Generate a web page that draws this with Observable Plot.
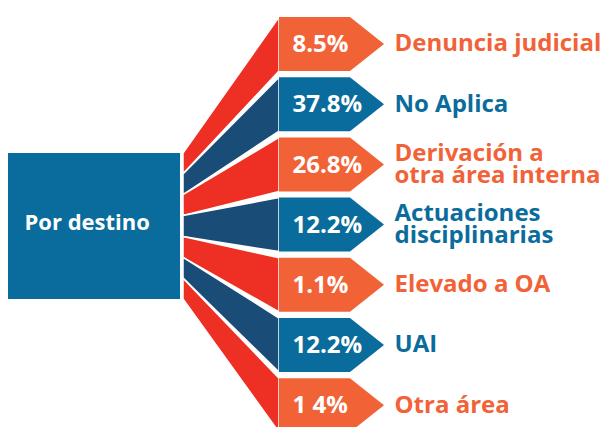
<!DOCTYPE html>
<html>
<head>
<meta charset="utf-8">
<script src="https://cdn.jsdelivr.net/npm/d3@7"></script>
<script src="https://cdn.jsdelivr.net/npm/@observablehq/plot@0.6"></script>
<style>
  html, body { margin: 0; padding: 0; background: #ffffff; }
  #chart svg { display: block; }
</style>
</head>
<body>
<div id="chart"></div>
<script>
// ---- data ----
const rootLabel = "Por destino";
const categories = [
  "Denuncia judicial",
  "No Aplica",
  "Derivación a\notra área interna",
  "Actuaciones\ndisciplinarias",
  "Elevado a OA",
  "UAI",
  "Otra área"
];
const values = [8.5, 37.8, 26.8, 12.2, 1.1, 12.2, 1.4];
const valueLabels = ["8.5%", "37.8%", "26.8%", "12.2%", "1.1%", "12.2%", "1 4%"];

// ---- layout / style ----
const W = 600, H = 427;
const orange = "#f26237", red = "#ee3024", blue = "#0a6c9c", darkBlue = "#1a4c78";
const box = {x1: 8, x2: 180, y1: 153, y2: 299};
const fanX0 = 183, fanX1 = 279, arrowBodyEnd = 350, arrowTip = 384;
const rowTop0 = 17, rowPitch = 60.2, rowH = 54;
const font = "'Open Sans', sans-serif";

const rows = categories.map((c, i) => {
  const top = rowTop0 + i * rowPitch;
  return {
    i, category: c, value: values[i], valueLabel: valueLabels[i],
    top, bottom: top + rowH, mid: top + rowH / 2,
    leftTop: box.y1 + i * (box.y2 - box.y1) / categories.length,
    leftBottom: box.y1 + (i + 1) * (box.y2 - box.y1) / categories.length,
    even: i % 2 === 0
  };
});

const wedgePts = rows.flatMap(r => [
  {id: r.i, x: fanX0, y1: r.leftTop, y2: r.leftBottom, fill: r.even ? red : darkBlue},
  {id: r.i, x: fanX1, y1: r.top, y2: r.bottom, fill: r.even ? red : darkBlue}
]);
const arrowPts = rows.flatMap(r => [
  {id: r.i, x: fanX1, y1: r.top, y2: r.bottom, fill: r.even ? orange : blue},
  {id: r.i, x: arrowBodyEnd, y1: r.top, y2: r.bottom, fill: r.even ? orange : blue},
  {id: r.i, x: arrowTip, y1: r.mid, y2: r.mid, fill: r.even ? orange : blue}
]);

const chart = Plot.plot({
  width: W, height: H,
  margin: 0,
  style: {fontFamily: font, background: "#ffffff", overflow: "hidden"},
  x: {domain: [0, W], range: [0, W], axis: null},
  y: {domain: [0, H], range: [0, H], axis: null},
  marks: [
    Plot.rect([box], {x1: "x1", x2: "x2", y1: "y1", y2: "y2", fill: blue}),
    Plot.text([rootLabel], {x: 24, y: (box.y1 + box.y2) / 2 - 4, text: d => d, fill: "white",
      fontSize: 22, fontWeight: 700, textAnchor: "start"}),
    Plot.areaY(wedgePts, {x: "x", y1: "y1", y2: "y2", z: "id", fill: "fill", stroke: "white", strokeWidth: 1.5}),
    Plot.areaY(arrowPts, {x: "x", y1: "y1", y2: "y2", z: "id", fill: "fill"}),
    Plot.text(rows, {x: 292, y: "mid", text: "valueLabel", fill: "white", fontSize: 24,
      fontWeight: 700, textAnchor: "start"}),
    Plot.text(rows, {x: 394, y: "mid", text: "category", fill: d => d.even ? orange : blue,
      fontSize: 24, fontWeight: 700, textAnchor: "start", lineHeight: 0.9})
  ]
});
document.getElementById("chart").appendChild(chart);
</script>
</body>
</html>
